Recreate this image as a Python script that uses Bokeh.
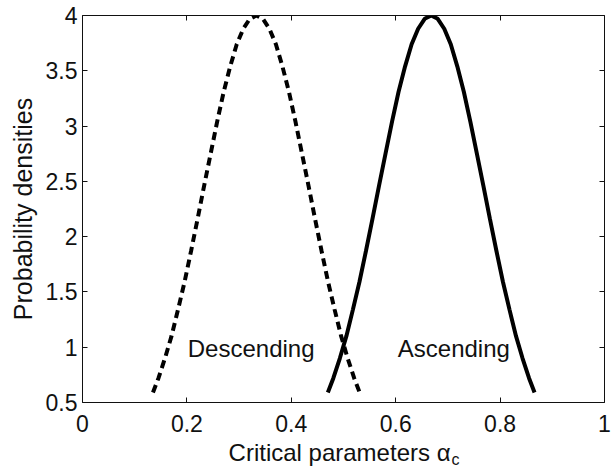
from bokeh.plotting import figure
from bokeh.models import Range1d, FixedTicker, LinearAxis, Label
from bokeh.layouts import column
from bokeh.embed import file_html
from bokeh.resources import INLINE

# Descending (dashed) density curve
desc_x = [0.135, 0.1455, 0.158, 0.1705, 0.183, 0.1955, 0.208, 0.2205, 0.233,
          0.2455, 0.258, 0.2705, 0.283, 0.2955, 0.308, 0.3205, 0.333,
          0.3455, 0.358, 0.3705, 0.383, 0.3955, 0.408, 0.4205, 0.433,
          0.4455, 0.458, 0.4705, 0.483, 0.4955, 0.508, 0.5205, 0.531]
desc_y = [0.59, 0.72, 0.90, 1.10, 1.34, 1.59, 1.87, 2.16, 2.46,
          2.75, 3.04, 3.31, 3.54, 3.74, 3.88, 3.97, 4.00,
          3.97, 3.88, 3.74, 3.54, 3.31, 3.04, 2.75, 2.46,
          2.16, 1.87, 1.59, 1.34, 1.10, 0.90, 0.72, 0.59]

# Ascending (solid) density curve
asc_x = [0.470, 0.4805, 0.493, 0.5055, 0.518, 0.5305, 0.543, 0.5555, 0.568,
         0.5805, 0.593, 0.6055, 0.618, 0.6305, 0.643, 0.6555, 0.668,
         0.6805, 0.693, 0.7055, 0.718, 0.7305, 0.743, 0.7555, 0.768,
         0.7805, 0.793, 0.8055, 0.818, 0.8305, 0.843, 0.8555, 0.866]
asc_y = [0.59, 0.72, 0.90, 1.10, 1.34, 1.59, 1.87, 2.16, 2.46,
         2.75, 3.04, 3.31, 3.54, 3.74, 3.88, 3.97, 4.00,
         3.97, 3.88, 3.74, 3.54, 3.31, 3.04, 2.75, 2.46,
         2.16, 1.87, 1.59, 1.34, 1.10, 0.90, 0.72, 0.59]

x_ticks = [0, 0.2, 0.4, 0.6, 0.8, 1]
x_tick_labels = ["0", "0.2", "0.4", "0.6", "0.8", "1"]
y_ticks = [0.5, 1, 1.5, 2, 2.5, 3, 3.5, 4]
y_tick_labels = ["0.5", "1", "1.5", "2", "2.5", "3", "3.5", "4"]

FONT = "Liberation Sans"
FS_TICK = "23px"
FS_TEXT = "24px"
INK = "#111111"

W = 612
BL, BR = 82, 8      # left / right borders around the plot frame (px)
P_H = 442           # main plot canvas incl. x tick labels (frame bottom at 402)
Q_H = 470 - P_H     # strip below holding the x title with its subscript

p = figure(width=W, height=P_H, x_range=Range1d(0, 1), y_range=Range1d(0.5, 4),
           title=None, output_backend="svg", toolbar_location=None,
           x_axis_location=None, y_axis_location=None,
           min_border_left=BL, min_border_right=BR, min_border_top=15,
           min_border_bottom=P_H - 402)
p.grid.visible = False
p.outline_line_color = None
p.background_fill_color = "white"
p.border_fill_color = "white"


def make_axis(ticks, labels, show_labels):
    ax = LinearAxis(ticker=FixedTicker(ticks=ticks))
    ax.major_tick_in = 5
    ax.major_tick_out = 0
    ax.minor_tick_line_color = None
    ax.axis_line_color = INK
    ax.axis_line_width = 1
    ax.major_tick_line_color = INK
    ax.major_label_text_font = FONT
    ax.major_label_text_color = INK
    ax.major_label_text_font_size = FS_TICK
    if show_labels:
        ax.major_label_overrides = {t: l for t, l in zip(ticks, labels)}
    else:
        ax.major_label_overrides = {t: "" for t in ticks}
        ax.major_label_standoff = 0
    return ax


bottom = make_axis(x_ticks, x_tick_labels, True)
bottom.major_label_standoff = 12
left = make_axis(y_ticks, y_tick_labels, True)
left.major_label_standoff = 5
left.axis_label = "Probability densities"
left.axis_label_text_font = FONT
left.axis_label_text_font_size = "25px"
left.axis_label_text_font_style = "normal"
left.axis_label_text_color = INK
left.axis_label_standoff = 6

p.add_layout(bottom, "below")
p.add_layout(left, "left")
p.add_layout(make_axis(x_ticks, x_tick_labels, False), "above")
p.add_layout(make_axis(y_ticks, y_tick_labels, False), "right")

p.line(desc_x, desc_y, line_color="black", line_width=4, line_dash="8 5")
p.line(asc_x, asc_y, line_color="black", line_width=4)

p.add_layout(Label(x=0.2017, y=0.99, text="Descending", text_font=FONT,
                   text_font_size=FS_TEXT, text_color=INK, text_baseline="middle"))
p.add_layout(Label(x=0.604, y=0.99, text="Ascending", text_font=FONT,
                   text_font_size=FS_TEXT, text_color=INK, text_baseline="middle"))

# strip below the plot holding the x title "Critical parameters α" with subscript c
q = figure(width=W, height=Q_H, x_range=p.x_range, y_range=Range1d(0, Q_H),
           title=None, output_backend="svg", toolbar_location=None,
           x_axis_location=None, y_axis_location=None,
           min_border_left=BL, min_border_right=BR, min_border_top=0,
           min_border_bottom=0)
q.grid.visible = False
q.outline_line_color = None
q.background_fill_color = "white"
q.border_fill_color = "white"

q.add_layout(Label(x=0.705, y=18.4, text="Critical parameters α", text_font=FONT,
                   text_font_size=FS_TEXT, text_color=INK, text_align="right",
                   text_baseline="middle"))
q.add_layout(Label(x=0.707, y=10.6, text="c", text_font=FONT,
                   text_font_size="16px", text_color=INK, text_align="left",
                   text_baseline="middle"))

layout = column(p, q, spacing=0)
open("out.html", "w").write(file_html(layout, INLINE))
